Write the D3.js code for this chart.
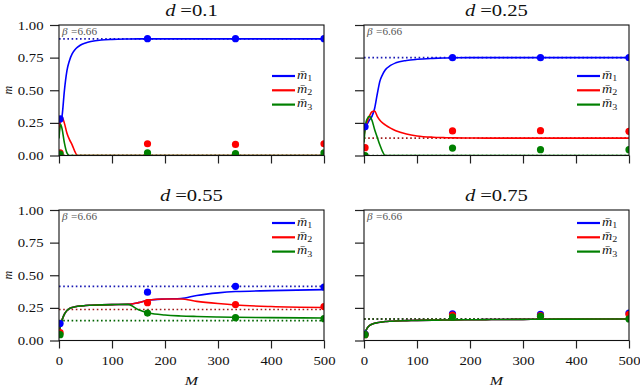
<!DOCTYPE html>
<html>
<head>
<meta charset="utf-8">
<script src="https://cdn.jsdelivr.net/npm/d3@7"></script>
<style>
body { margin: 0; background: #fff; }
</style>
</head>
<body>
<svg id="chart" width="640" height="386"></svg>
<script>
'use strict';

// values
const titles = ['0.1', '0.25', '0.55', '0.75'];
const lineM = [0, 3, 6, 10, 15, 20, 25, 30, 35, 40, 50, 60, 80, 100, 130, 150, 170, 200, 230, 260, 300, 333, 400, 500];
const dotM = [2, 167, 333, 500];
const xTicks = [0, 100, 200, 300, 400, 500];
const yTicks = [0, 0.25, 0.5, 0.75, 1];
const beta = '6.66';

// d = 0.1
const m1_a = [0.24, 0.26, 0.31, 0.49, 0.65, 0.73, 0.78, 0.81, 0.83, 0.845, 0.862, 0.873, 0.885, 0.89, 0.893, 0.894, 0.894, 0.894, 0.894, 0.894, 0.894, 0.894, 0.894, 0.894];
const m2_a = [0.17, 0.27, 0.29, 0.25, 0.17, 0.12, 0.08, 0.03, 0, 0, 0, 0, 0, 0, 0, 0, 0, 0, 0, 0, 0, 0, 0, 0];
const m3_a = [0.13, 0.24, 0.2, 0.1, 0.02, 0, 0, 0, 0, 0, 0, 0, 0, 0, 0, 0, 0, 0, 0, 0, 0, 0, 0, 0];
const fp_a = [0.894, 0, 0];
const dot1_a = [0.28, 0.895, 0.895, 0.895];
const dot2_a = [0.02, 0.09, 0.085, 0.09];
const dot3_a = [0.01, 0.02, 0.015, 0.02];

// d = 0.25
const m1_b = [0.2, 0.22, 0.24, 0.27, 0.3, 0.36, 0.47, 0.57, 0.62, 0.655, 0.69, 0.71, 0.728, 0.737, 0.744, 0.747, 0.749, 0.75, 0.75, 0.75, 0.75, 0.75, 0.75, 0.75];
const m2_b = [0.15, 0.22, 0.26, 0.3, 0.335, 0.34, 0.3, 0.27, 0.25, 0.235, 0.21, 0.19, 0.165, 0.15, 0.14, 0.137, 0.135, 0.134, 0.133, 0.133, 0.133, 0.133, 0.133, 0.133];
const m3_b = [0.1, 0.24, 0.28, 0.3, 0.27, 0.2, 0.14, 0.08, 0.03, 0, 0, 0, 0, 0, 0, 0, 0, 0, 0, 0, 0, 0, 0, 0];
const fp_b = [0.75, 0.133, 0];
const dot1_b = [0.22, 0.75, 0.75, 0.75];
const dot2_b = [0.06, 0.188, 0.19, 0.185];
const dot3_b = [0.0, 0.057, 0.045, 0.045];

// d = 0.55
const m1_c = [0.05, 0.12, 0.16, 0.2, 0.23, 0.245, 0.253, 0.258, 0.262, 0.264, 0.268, 0.27, 0.273, 0.275, 0.277, 0.29, 0.31, 0.318, 0.322, 0.345, 0.365, 0.375, 0.382, 0.39];
const m2_c = [0.05, 0.12, 0.16, 0.2, 0.23, 0.245, 0.253, 0.258, 0.262, 0.264, 0.268, 0.27, 0.273, 0.275, 0.277, 0.29, 0.31, 0.318, 0.318, 0.3, 0.283, 0.272, 0.26, 0.253];
const m3_c = [0.05, 0.12, 0.16, 0.2, 0.23, 0.245, 0.253, 0.258, 0.262, 0.264, 0.268, 0.27, 0.273, 0.275, 0.277, 0.235, 0.21, 0.195, 0.188, 0.184, 0.18, 0.178, 0.175, 0.172];
const fp_c = [0.415, 0.237, 0.152];
const dot1_c = [0.13, 0.37, 0.415, 0.41];
const dot2_c = [0.06, 0.29, 0.275, 0.26];
const dot3_c = [0.045, 0.21, 0.175, 0.167];

// d = 0.75 (the three curves coincide)
const m_d = [0.04, 0.07, 0.095, 0.113, 0.125, 0.132, 0.136, 0.14, 0.142, 0.145, 0.148, 0.15, 0.152, 0.154, 0.156, 0.157, 0.158, 0.159, 0.16, 0.161, 0.162, 0.163, 0.164, 0.165];
const fp_d = [0.165, 0.165, 0.165];
const dot1_d = [0.05, 0.205, 0.2, 0.21];
const dot2_d = [0.045, 0.195, 0.19, 0.2];
const dot3_d = [0.045, 0.18, 0.185, 0.165];

const colors = ['#0000ff', '#ff0000', '#008000'];
const dotted = ['#1a1ab4', '#a01a1a', '#006400'];
const serif = '"Liberation Serif", "DejaVu Serif", serif';

const svg = d3.select('#chart');
const panelW = 265;
const panelH = 130.5;
const sx = 1.18; // text in the figure is a little wider than the font

const panels = [
    { left: 59, top: 25, title: titles[0], lines: [m1_a, m2_a, m3_a], fixed: fp_a, dots: [dot1_a, dot2_a, dot3_a], legendY: 51, xLab: false, yLab: true },
    { left: 364, top: 25, title: titles[1], lines: [m1_b, m2_b, m3_b], fixed: fp_b, dots: [dot1_b, dot2_b, dot3_b], legendY: 51, xLab: false, yLab: false },
    { left: 59, top: 210, title: titles[2], lines: [m1_c, m2_c, m3_c], fixed: fp_c, dots: [dot1_c, dot2_c, dot3_c], legendY: 13, xLab: true, yLab: true },
    { left: 364, top: 210, title: titles[3], lines: [m_d, m_d, m_d], fixed: fp_d, dots: [dot1_d, dot2_d, dot3_d], legendY: 13, xLab: true, yLab: false },
];

// text placed at (x, y) and widened by sx
function wideText(parent, x, y, size) {
    return parent.append('g')
        .attr('transform', 'translate(' + x + ',' + y + ') scale(' + sx + ',1)')
        .append('text')
        .attr('font-family', serif)
        .attr('font-size', size)
        .attr('fill', '#111');
}

panels.forEach(function(p, pi) {
    const x = d3.scaleLinear().domain([0, 500]).range([0, panelW]);
    const y = d3.scaleLinear().domain([0, 1]).range([panelH, 0]);

    const g = svg.append('g').attr('transform', 'translate(' + p.left + ',' + p.top + ')');

    g.append('clipPath').attr('id', 'clip' + pi)
        .append('rect').attr('width', panelW).attr('height', panelH);

    const plot = g.append('g').attr('clip-path', 'url(#clip' + pi + ')');

    // fixed point levels
    p.fixed.forEach(function(v, i) {
        plot.append('line')
            .attr('x1', x(0)).attr('x2', x(500))
            .attr('y1', y(v)).attr('y2', y(v))
            .attr('stroke', dotted[i])
            .attr('stroke-width', 1.6)
            .attr('stroke-dasharray', '1.6,2.6');
    });

    const line = d3.line()
        .x(function(d, i) { return x(lineM[i]); })
        .y(function(d) { return y(d); })
        .curve(d3.curveMonotoneX);

    p.lines.forEach(function(s, i) {
        plot.append('path')
            .datum(s)
            .attr('d', line)
            .attr('fill', 'none')
            .attr('stroke', colors[i])
            .attr('stroke-width', 1.6);
    });

    p.dots.forEach(function(s, i) {
        plot.selectAll('circle.s' + i)
            .data(s)
            .enter().append('circle')
            .attr('class', 's' + i)
            .attr('cx', function(d, j) { return x(dotM[j]); })
            .attr('cy', function(d) { return y(d); })
            .attr('r', 3.6)
            .attr('fill', colors[i]);
    });

    // axes
    const xAxis = g.append('g')
        .attr('transform', 'translate(0,' + panelH + ')')
        .call(d3.axisBottom(x).tickValues(xTicks).tickSize(8).tickFormat(p.xLab ? d3.format('d') : ''));
    xAxis.select('.domain').remove();
    xAxis.selectAll('line').attr('stroke', '#222').attr('stroke-width', 1.2);
    xAxis.selectAll('text')
        .attr('font-family', serif)
        .attr('font-size', 12.5)
        .attr('fill', '#111')
        .attr('y', 24.5)
        .attr('dy', 0)
        .attr('transform', 'scale(' + sx + ',1)');

    const yAxis = g.append('g')
        .call(d3.axisLeft(y).tickValues(yTicks).tickSize(9).tickFormat(p.yLab ? d3.format('.2f') : ''));
    yAxis.select('.domain').remove();
    yAxis.selectAll('line').attr('stroke', '#222').attr('stroke-width', 1.2);
    yAxis.selectAll('text')
        .attr('font-family', serif)
        .attr('font-size', 12.5)
        .attr('fill', '#111')
        .attr('x', -15.5 / sx)
        .attr('transform', 'scale(' + sx + ',1)');

    g.append('rect')
        .attr('width', panelW).attr('height', panelH)
        .attr('fill', 'none')
        .attr('stroke', '#111')
        .attr('stroke-width', 1.1);

    // beta annotation
    const bt = wideText(g, 3, 9.5, 9.5).attr('fill', '#555');
    bt.append('tspan').attr('font-style', 'italic').text('β');
    bt.append('tspan').attr('dx', 3).text('=' + beta);

    // title
    const tt = wideText(g, panelW / 2, -9.5, 17.5).attr('text-anchor', 'middle');
    tt.append('tspan').attr('font-style', 'italic').text('d');
    tt.append('tspan').attr('dx', 4).text('=' + p.title);

    // legend
    const lg = g.append('g').attr('transform', 'translate(213,' + p.legendY + ')');
    colors.forEach(function(c, i) {
        lg.append('line')
            .attr('x1', 0).attr('x2', 23)
            .attr('y1', i * 14.3).attr('y2', i * 14.3)
            .attr('stroke', c)
            .attr('stroke-width', 2.2);
        const lt = wideText(lg, 25, i * 14.3 + 2.5, 12).attr('fill', '#222');
        lt.append('tspan').attr('font-style', 'italic').text('m\u0304');
        lt.append('tspan').attr('font-size', 8.5).attr('dy', 2.5).text(String(i + 1));
    });

    if (p.yLab) {
        svg.append('text')
            .attr('transform', 'translate(12,' + (p.top + panelH / 2) + ') rotate(-90)')
            .attr('text-anchor', 'middle')
            .attr('font-family', serif)
            .attr('font-size', 12)
            .attr('font-style', 'italic')
            .attr('fill', '#111')
            .text('m');
    }
    if (p.xLab) {
        wideText(g, panelW / 2, panelH + 44, 13.5)
            .attr('text-anchor', 'middle')
            .attr('font-style', 'italic')
            .text('M');
    }
});
</script>
</body>
</html>
